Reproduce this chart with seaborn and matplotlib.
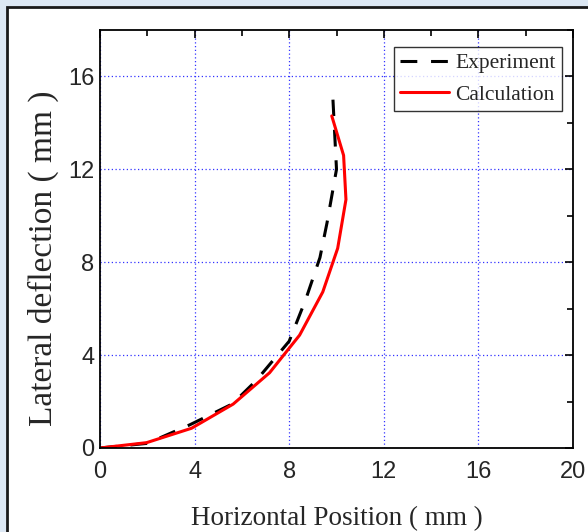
import matplotlib
matplotlib.use("Agg")
import matplotlib.pyplot as plt
import seaborn as sns
import pandas as pd
from matplotlib.patches import Rectangle
from matplotlib.ticker import MultipleLocator

# Data
exp_x = [0, 2.0, 3.8, 5.6, 6.6, 8.0, 8.7, 9.3, 9.6, 10.0, 9.85]
exp_y = [0, 0.2, 1.0, 1.9, 2.9, 4.6, 6.4, 8.2, 9.7, 12.0, 15.0]
calc_x = [0, 1.97, 3.87, 5.63, 7.17, 8.44, 9.42, 10.05, 10.4, 10.3, 9.8]
calc_y = [0, 0.23, 0.85, 1.89, 3.24, 4.86, 6.72, 8.6, 10.7, 12.6, 14.3]
x_ticks = [0, 4, 8, 12, 16, 20]
y_ticks = [0, 4, 8, 12, 16]

df_exp = pd.DataFrame({"x": exp_x, "y": exp_y})
df_calc = pd.DataFrame({"x": calc_x, "y": calc_y})

sns.set_style("white")
fig = plt.figure(figsize=(5.88, 5.32), dpi=100)
fig.patch.set_facecolor("#dde8f4")
fig.add_artist(Rectangle((7/588, -0.1), 1.2, 1 - 7/532 + 0.1,
                         transform=fig.transFigure, facecolor="white",
                         edgecolor="#1a1a1a", linewidth=2.0, zorder=-10))

ax = fig.add_axes([100/588, 1 - 448/532, 473/588, 418/532])
ax.set_facecolor("white")

sns.lineplot(data=df_exp, x="x", y="y", sort=False, ax=ax, color="black",
             linewidth=2.2, linestyle=(0, (5.5, 4.5)), label="Experiment", estimator=None)
sns.lineplot(data=df_calc, x="x", y="y", sort=False, ax=ax, color="#ff0000",
             linewidth=2.2, label="Calculation", estimator=None)

ax.set_xlim(0, 20)
ax.set_ylim(0, 18)
ax.set_xticks(x_ticks)
ax.set_yticks(y_ticks)
ax.xaxis.set_minor_locator(MultipleLocator(2))
ax.yaxis.set_minor_locator(MultipleLocator(2))
ax.tick_params(which="both", direction="in", top=True, right=True, width=1.2,
               labelsize=17, color="black")
ax.tick_params(which="major", length=6)
ax.tick_params(which="minor", length=4)
for lbl in ax.get_xticklabels() + ax.get_yticklabels():
    lbl.set_family("Liberation Sans")
ax.tick_params(axis="x", pad=9)
ax.tick_params(axis="y", pad=4)

ax.grid(True, which="major", color="#3333ff", linestyle=(0, (1, 2)), linewidth=0.9)
ax.set_axisbelow(True)
for s in ax.spines.values():
    s.set_color("black")
    s.set_linewidth(1.3)

ax.set_xlabel("Horizontal Position ( mm )", family="Liberation Serif", fontsize=19.5, labelpad=17)
ax.set_ylabel("Lateral deflection ( mm )", family="Liberation Serif", fontsize=24)
ax.yaxis.set_label_coords(-0.087, 0.455)

leg = ax.legend(loc="upper right", bbox_to_anchor=(0.9767, 0.9593), frameon=True,
                fancybox=False, edgecolor="black",
                prop={"family": "Liberation Serif", "size": 15.5},
                handlelength=2.3, handletextpad=0.3, borderpad=0.28, labelspacing=0.55,
                borderaxespad=0)
leg.get_frame().set_linewidth(1.0)

fig.savefig("out.png", dpi=100, facecolor=fig.get_facecolor())
